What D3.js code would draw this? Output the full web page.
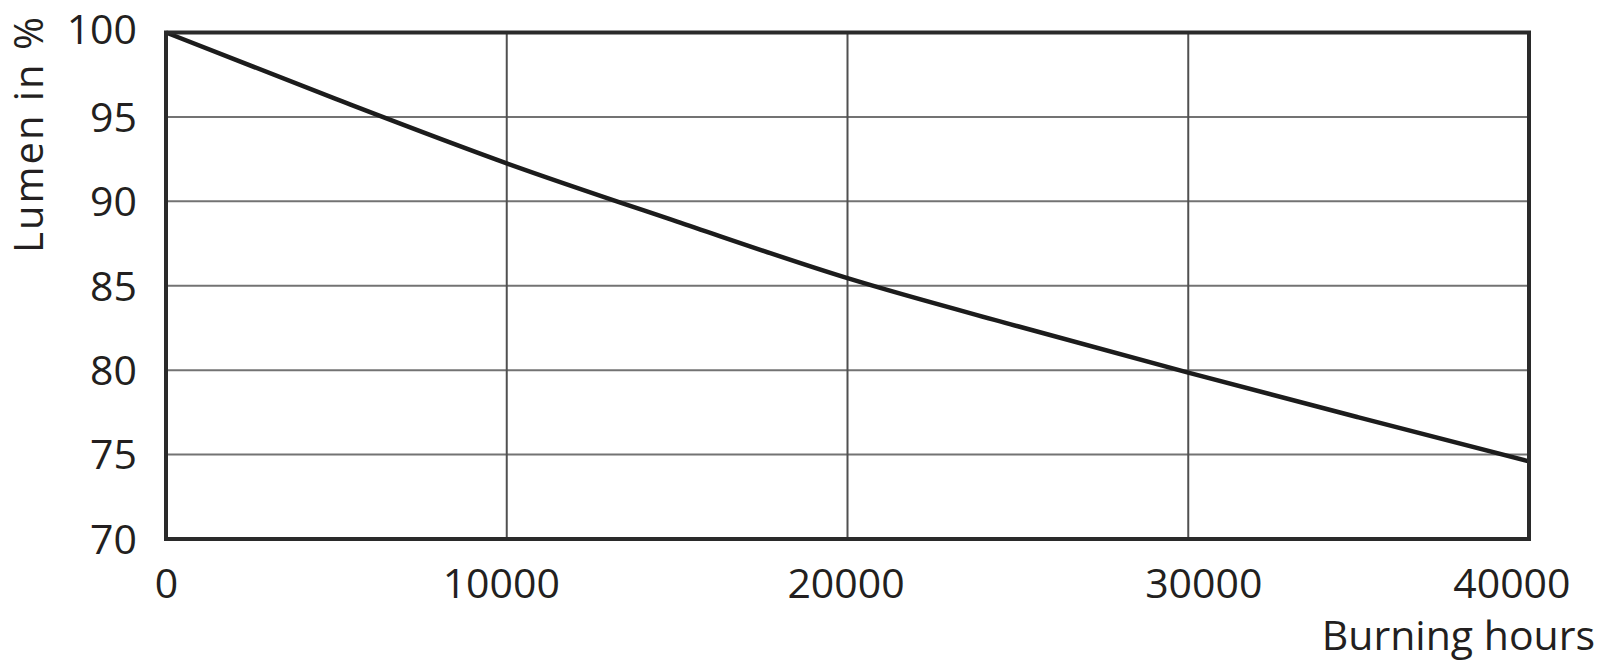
<!DOCTYPE html>
<html>
<head>
<meta charset="utf-8">
<script src="https://cdn.jsdelivr.net/npm/d3@7"></script>
<style>
  html, body { margin: 0; padding: 0; background: #fff; }
  svg { display: block; }
  text { font-family: "Open Sans", "Noto Sans", sans-serif; fill: #231f20; }
</style>
</head>
<body>
<svg id="chart" width="1600" height="667"></svg>
<script>
// Data
const hours = [0, 5000, 10000, 15000, 20000, 25000, 30000, 35000, 40000];
const lumen = [100, 96.05, 92.25, 88.8, 85.45, 82.6, 79.85, 77.2, 74.6];
const xTicks = [0, 10000, 20000, 30000, 40000];
const yTicks = [70, 75, 80, 85, 90, 95, 100];
const xTitle = "Burning hours";
const yTitle = "Lumen in %";

const W = 1600, H = 667;
const m = { left: 166, right: 1600 - 1529, top: 32.5, bottom: 667 - 539 };
const svg = d3.select("#chart");

const x = d3.scaleLinear().domain([0, 40000]).range([m.left, W - m.right]);
const y = d3.scaleLinear().domain([70, 100]).range([H - m.bottom, m.top]);

// grid lines
svg.append("g")
  .selectAll("line")
  .data(yTicks.filter(d => d > 70 && d < 100))
  .join("line")
  .attr("x1", x(0)).attr("x2", x(40000))
  .attr("y1", d => y(d)).attr("y2", d => y(d))
  .attr("stroke", "#737373").attr("stroke-width", 2);

svg.append("g")
  .selectAll("line")
  .data(xTicks.filter(d => d > 0 && d < 40000))
  .join("line")
  .attr("y1", y(70)).attr("y2", y(100))
  .attr("x1", d => x(d)).attr("x2", d => x(d))
  .attr("stroke", "#505050").attr("stroke-width", 2);

// data line
const line = d3.line().x((d, i) => x(hours[i])).y(d => y(d)).curve(d3.curveMonotoneX);
svg.append("path")
  .datum(lumen)
  .attr("d", line)
  .attr("fill", "none")
  .attr("stroke", "#1c1c1c")
  .attr("stroke-width", 4.5)
  .attr("stroke-linejoin", "round");

// frame
svg.append("rect")
  .attr("x", x(0)).attr("y", y(100))
  .attr("width", x(40000) - x(0)).attr("height", y(70) - y(100))
  .attr("fill", "none").attr("stroke", "#2a2a2a").attr("stroke-width", 4);

// y tick labels
const yAxis = d3.axisLeft(y).tickValues(yTicks).tickSize(0).tickPadding(0)
  .tickFormat(d3.format("d"));
const gy = svg.append("g").attr("transform", `translate(${137},0)`).call(yAxis);
gy.select(".domain").remove();
gy.selectAll("text")
  .attr("font-size", 41)
  .attr("font-family", "Open Sans")
  .attr("fill", "#231f20")
  .attr("dy", (d) => d === 100 ? "0.28em" : "0.35em");

// x tick labels
const xNudge = { 0: 0, 10000: -6, 20000: -2, 30000: 15 };
const xAxis = d3.axisBottom(x).tickValues(xTicks).tickSize(0).tickPadding(0)
  .tickFormat(d3.format("d"));
const gx = svg.append("g").attr("transform", `translate(0,${598})`).call(xAxis);
gx.select(".domain").remove();
gx.selectAll("text")
  .attr("font-size", 41)
  .attr("font-family", "Open Sans")
  .attr("fill", "#231f20")
  .attr("dy", 0)
  .attr("text-anchor", d => d === 40000 ? "end" : "middle")
  .attr("x", d => d === 40000 ? 1570 - x(40000) : xNudge[d]);

// axis titles
svg.append("text")
  .attr("x", 1595).attr("y", 650)
  .attr("text-anchor", "end")
  .attr("font-size", 41)
  .text(xTitle);

svg.append("text")
  .attr("transform", "translate(43,253) rotate(-90)")
  .attr("text-anchor", "start")
  .attr("font-size", 40)
  .attr("textLength", 236)
  .attr("lengthAdjust", "spacing")
  .text(yTitle);
</script>
</body>
</html>
